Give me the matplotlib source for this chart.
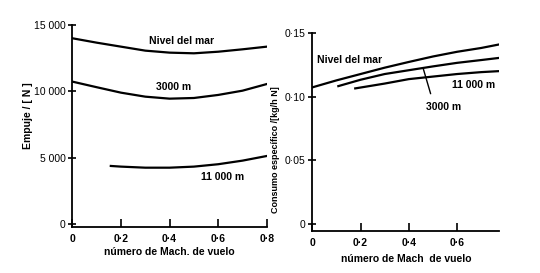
import matplotlib
matplotlib.use("Agg")
import matplotlib.pyplot as plt

plt.rcParams['font.family'] = ['Liberation Sans', 'DejaVu Sans']

# Empuje (N) vs Mach
mach_mar = [0, 0.1, 0.2, 0.3, 0.4, 0.5, 0.6, 0.7, 0.8]
emp_mar = [14000, 13670, 13370, 13070, 12920, 12870, 12990, 13170, 13370]
mach_3000 = [0, 0.1, 0.2, 0.3, 0.4, 0.5, 0.6, 0.7, 0.8]
emp_3000 = [10740, 10320, 9910, 9610, 9460, 9510, 9740, 10060, 10560]
mach_11000 = [0.158, 0.2, 0.3, 0.4, 0.5, 0.6, 0.7, 0.8]
emp_11000 = [4400, 4350, 4270, 4270, 4350, 4530, 4800, 5150]

# Consumo especifico (kg/h N) vs Mach
c_mach_mar = [0, 0.1, 0.2, 0.3, 0.4, 0.5, 0.6, 0.7, 0.775]
cons_mar = [0.1075, 0.113, 0.118, 0.123, 0.1275, 0.1318, 0.1355, 0.1385, 0.1413]
c_mach_3000 = [0.108, 0.2, 0.3, 0.4, 0.5, 0.6, 0.7, 0.775]
cons_3000 = [0.1085, 0.1135, 0.118, 0.121, 0.124, 0.1268, 0.129, 0.1307]
c_mach_11000 = [0.178, 0.3, 0.4, 0.5, 0.6, 0.7, 0.775]
cons_11000 = [0.1067, 0.1105, 0.114, 0.116, 0.118, 0.1195, 0.1203]

emp_ticks = [0, 5000, 10000, 15000]
emp_labels = ['0', '5 000', '10 000', '15 000']
cons_ticks = [0, 0.05, 0.10, 0.15]
cons_labels = ['0', '0·05', '0·10', '0·15']
mach_ticks_l = [0, 0.2, 0.4, 0.6, 0.8]
mach_labels_l = ['0', '0·2', '0·4', '0·6', '0·8']
mach_ticks_r = [0, 0.2, 0.4, 0.6]
mach_labels_r = ['0', '0·2', '0·4', '0·6']

fig = plt.figure(figsize=(5.4, 2.73), dpi=100)
ax1 = fig.add_axes([0.1341, 0.1685, 0.3600, 0.7400])
ax2 = fig.add_axes([0.5783, 0.1538, 0.3463, 0.7240])

fs = 7.5
for ax in (ax1, ax2):
    for s in ('top', 'right'):
        ax.spines[s].set_visible(False)
    for s in ('left', 'bottom'):
        ax.spines[s].set_linewidth(1.3)
    ax.tick_params(axis='x', direction='in', length=6, width=1.2, labelsize=fs, pad=5)
    ax.tick_params(axis='y', direction='inout', length=6, width=1.2, labelsize=fs, pad=2)

lw = 1.6
ax1.plot(mach_mar, emp_mar, color='black', lw=lw)
ax1.plot(mach_3000, emp_3000, color='black', lw=lw)
ax1.plot(mach_11000, emp_11000, color='black', lw=lw)
ax1.set_xlim(0, 0.8)
ax1.set_ylim(-190, 15000)
ax1.set_xticks(mach_ticks_l)
ax1.set_xticklabels(mach_labels_l, fontweight='bold')
ax1.set_yticks(emp_ticks)
ax1.set_yticklabels(emp_labels)
ax1.set_ylabel('Empuje / [ N ]', fontsize=fs, fontweight='bold')
ax1.yaxis.set_label_coords(-0.205, 0.55)
ax1.set_xlabel('número de Mach. de vuelo', fontsize=fs, fontweight='bold', labelpad=2)
ax1.text(0.451, 13800, 'Nivel del mar', fontsize=fs, fontweight='bold', ha='center', va='center')
ax1.text(0.417, 10315, '3000 m', fontsize=fs, fontweight='bold', ha='center', va='center')
ax1.text(0.617, 3550, '11 000 m', fontsize=fs, fontweight='bold', ha='center', va='center')

ax2.plot(c_mach_mar, cons_mar, color='black', lw=lw)
ax2.plot(c_mach_3000, cons_3000, color='black', lw=lw)
ax2.plot(c_mach_11000, cons_11000, color='black', lw=lw)
ax2.set_xlim(0, 0.775)
ax2.set_ylim(-0.0055, 0.15)
ax2.set_xticks(mach_ticks_r)
ax2.set_xticklabels(mach_labels_r, fontweight='bold')
ax2.set_yticks(cons_ticks)
ax2.set_yticklabels(cons_labels)
ax2.set_ylabel('Consumo específico /[kg/h N]', fontsize=6.5, fontweight='bold')
ax2.yaxis.set_label_coords(-0.17, 0.41)
ax2.set_xlabel('número de Mach  de vuelo', fontsize=fs, fontweight='bold', labelpad=4)
ax2.text(0.155, 0.129, 'Nivel del mar', fontsize=fs, fontweight='bold', ha='center', va='center')
ax2.text(0.67, 0.1093, '11 000 m', fontsize=fs, fontweight='bold', ha='center', va='center')
ax2.annotate('3000 m', xy=(0.46, 0.1222), xytext=(0.544, 0.0922),
             fontsize=fs, fontweight='bold', ha='center', va='center',
             arrowprops=dict(arrowstyle='-', color='black', lw=1.0,
                             shrinkA=4, shrinkB=0,
                             relpos=(0.2, 1.0)))

fig.savefig('out.png', dpi=100, facecolor='white')
